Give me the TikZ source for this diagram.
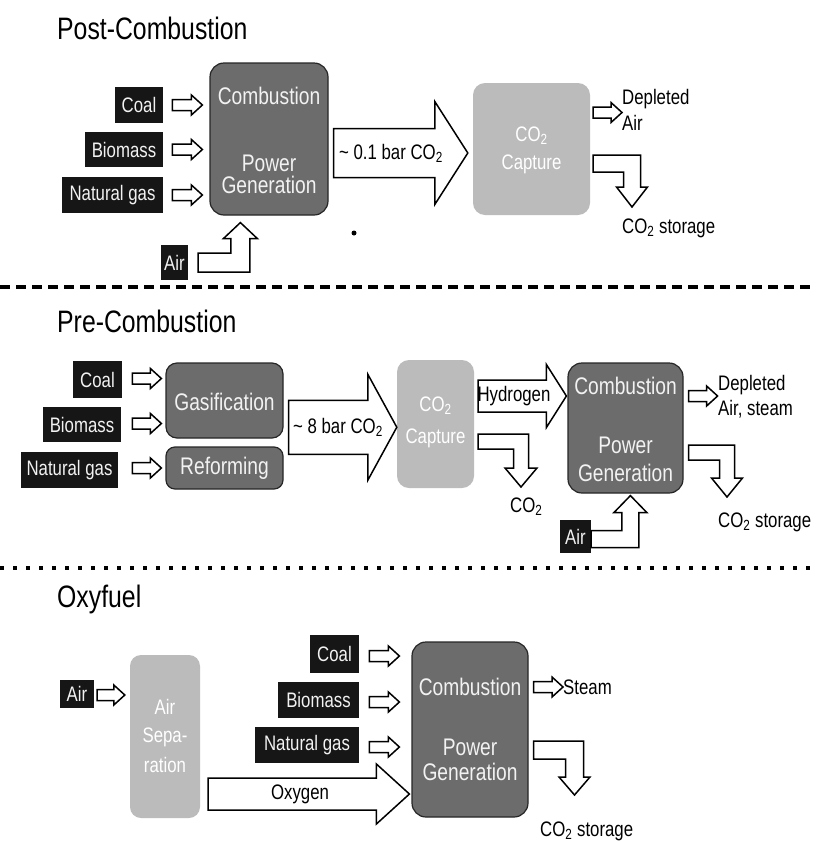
\documentclass[tikz,border=0pt]{standalone}
\usepackage{fontspec}
\setmainfont{Liberation Sans}[FakeStretch=0.8]
\usetikzlibrary{calc}

\definecolor{darkbox}{HTML}{6C6C6C}
\definecolor{lightbox}{HTML}{BBBBBB}
\definecolor{fuelbox}{HTML}{161616}

\begin{document}
\begin{tikzpicture}[x=1pt,y=-1pt,
  title/.style={anchor=base west, inner sep=0pt, font=\fontsize{31}{34}\selectfont},
  fuel/.style={fill=fuelbox, draw=none, inner sep=0pt, text=white!95!black,
    font=\fontsize{21}{24}\selectfont},
  unitbox/.style={draw=black!85, fill=darkbox, rounded corners=14pt, line width=1.2pt, inner sep=0pt},
  capbox/.style={draw=none, fill=lightbox, rounded corners=12pt, inner sep=0pt},
  boxtext/.style={text=white!95!black, inner sep=0pt, font=\fontsize{24}{28}\selectfont},
  captext/.style={text=white, inner sep=0pt, font=\fontsize{21}{24}\selectfont},
  lbl/.style={anchor=base west, inner sep=0pt, font=\fontsize{21}{24}\selectfont},
  midlbl/.style={inner sep=0pt, font=\fontsize{21}{24}\selectfont},
  blk/.style={draw=black, fill=white, line width=1.5pt, line join=miter},
  % straight block arrow: #1 half shaft, #2 half head, #3 head length
  hblk/.style n args={3}{blk, to path={let \p1=(\tikztostart),\p2=(\tikztotarget) in
    (\x1,{\y1+#1pt}) -- ({\x2-#3pt},{\y1+#1pt}) -- ({\x2-#3pt},{\y1+#2pt}) -- (\x2,\y1)
    -- ({\x2-#3pt},{\y1-#2pt}) -- ({\x2-#3pt},{\y1-#1pt}) -- (\x1,{\y1-#1pt}) -- cycle}},
  % bent block arrow, right then down to the tip
  bentdown/.style n args={3}{blk, to path={let \p1=(\tikztostart),\p2=(\tikztotarget) in
    (\x1,{\y1+#1pt}) -- ({\x2+#1pt},{\y1+#1pt}) -- ({\x2+#1pt},{\y2+#3pt}) -- ({\x2+#2pt},{\y2+#3pt})
    -- (\x2,\y2) -- ({\x2-#2pt},{\y2+#3pt}) -- ({\x2-#1pt},{\y2+#3pt}) -- ({\x2-#1pt},{\y1-#1pt})
    -- (\x1,{\y1-#1pt}) -- cycle}},
  % bent block arrow, right then up to the tip
  bentup/.style n args={3}{blk, to path={let \p1=(\tikztostart),\p2=(\tikztotarget) in
    (\x1,{\y1-#1pt}) -- ({\x2+#1pt},{\y1-#1pt}) -- ({\x2+#1pt},{\y2-#3pt}) -- ({\x2+#2pt},{\y2-#3pt})
    -- (\x2,\y2) -- ({\x2-#2pt},{\y2-#3pt}) -- ({\x2-#1pt},{\y2-#3pt}) -- ({\x2-#1pt},{\y1+#1pt})
    -- (\x1,{\y1+#1pt}) -- cycle}},
  small/.style={hblk={5.5}{10}{11}}
]
\useasboundingbox (0,0) rectangle (816,841);

% ================= Post-combustion =================
\node[title] (ptitle) at (57,39) {Post-Combustion};

\node[fuel, minimum width=48, minimum height=36] (pcoal) at (139,105) {Coal};
\node[fuel, minimum width=78, minimum height=35] (pbio) at (124,149.5) {Biomass};
\node[fuel, minimum width=101, minimum height=36] (pgas) at (112.5,195) {Natural gas};
\node[fuel, minimum width=27, minimum height=35] (pair) at (174.5,262.5) {Air};

\node[unitbox, minimum width=118, minimum height=152] (pcomb) at (269,139) {};
\node[boxtext] (pcombA) at (269,96) {Combustion};
\node[boxtext] (pcombB) at (269,163) {Power};
\node[boxtext] (pcombC) at (269,185) {Generation};

\node[capbox, minimum width=117, minimum height=132] (pcap) at (531.5,149) {};
\node[captext] (pcapA) at (531.5,136) {CO\textsubscript{2}};
\node[captext] (pcapB) at (531.5,164) {Capture};

\foreach \f in {pcoal,pbio,pgas}
  \draw[small] ($(\f.east -| pcomb.west)+(-37,0)$) to ($(\f.east -| pcomb.west)+(-7,0)$);

\coordinate (pbigS) at ($(pcomb.east)+(5,14)$);
\coordinate (pbigT) at ($(pcap.west)+(-5,4)$);
\draw[hblk={24.5}{51.5}{33}] (pbigS) to (pbigT);
\node[midlbl] (pbigL) at (391,153) {\textasciitilde{} 0.1 bar CO\textsubscript{2}};

\coordinate (pairS) at ($(pair.east)+(10,0)$);
\coordinate (pairT) at ($(pcomb.south west)+(31,7)$);
\draw[bentup={9.5}{17}{16}] (pairS) to (pairT);

\node[lbl] (pdepA) at (622,104) {Depleted};
\node[lbl] (pdepB) at (622,130) {Air};
\draw[small] ($(pcap.east)+(3,-36.5)$) to ($(pdepA.base west)+(0,8.5)$);

\node[lbl] (pstore) at (622,233) {CO\textsubscript{2} storage};
\coordinate (pstS) at ($(pcap.east)+(3,14.5)$);
\coordinate (pstT) at (632,207);
\draw[bentdown={8.5}{15.5}{20}] (pstS) to (pstT);

\fill (354,233) circle (2.5pt);

\draw[line width=3.5pt, dash pattern=on 10pt off 6pt] (0,287) -- (816,287);

% ================= Pre-combustion =================
\node[title] (qtitle) at (57,332) {Pre-Combustion};

\node[fuel, minimum width=49, minimum height=37] (qcoal) at (97.5,379.5) {Coal};
\node[fuel, minimum width=78, minimum height=35] (qbio) at (82,424.5) {Biomass};
\node[fuel, minimum width=97, minimum height=36] (qgas) at (69.5,470) {Natural gas};

\node[unitbox, rounded corners=11pt, minimum width=117, minimum height=75] (qgasif) at (224.5,400.5) {};
\node[boxtext] (qgasifT) at (224.5,402) {Gasification};
\node[unitbox, rounded corners=9pt, minimum width=117, minimum height=42] (qref) at (224.5,468) {};
\node[boxtext] (qrefT) at (224.5,468) {Reforming};

\draw[small] ($(qcoal.east -| qgasif.west)+(-33,-1)$) to ($(qcoal.east -| qgasif.west)+(-4,-1)$);
\draw[small] ($(qbio.east -| qgasif.west)+(-33,-1)$) to ($(qbio.east -| qgasif.west)+(-4,-1)$);
\draw[small] ($(qgas.east -| qref.west)+(-33,-2)$) to ($(qgas.east -| qref.west)+(-4,-2)$);

\node[capbox, minimum width=77, minimum height=128] (qcap) at (435.5,424) {};
\node[captext] (qcapA) at (435.5,406) {CO\textsubscript{2}};
\node[captext] (qcapB) at (435.5,438) {Capture};

\coordinate (qbigS) at ($(qgasif.east)!0.5!(qref.east)+(5,-7)$);
\coordinate (qbigT) at (qcap.west);
\draw[hblk={27}{53}{29}] (qbigS) to (qbigT);
\node[midlbl] (qbigL) at (338,427) {\textasciitilde{} 8 bar CO\textsubscript{2}};

\node[unitbox, minimum width=115, minimum height=130] (qcomb) at (625.5,428) {};
\node[boxtext] (qcombA) at (625.5,386) {Combustion};
\node[boxtext] (qcombB) at (625.5,445) {Power};
\node[boxtext] (qcombC) at (625.5,473) {Generation};

\coordinate (qhS) at ($(qcap.east)+(4,-28)$);
\coordinate (qhT) at ($(qcomb.west)+(-1,0)$);
\draw[hblk={16}{31.5}{20}] (qhS) to (qhT);
\node[midlbl] (qhL) at (514,396) {Hydrogen};

\node[lbl] (qco2) at (510,512) {CO\textsubscript{2}};
\coordinate (qcS) at ($(qcap.east)+(4,17.5)$);
\coordinate (qcT) at (521,487);
\draw[bentdown={7.5}{16}{19}] (qcS) to (qcT);

\node[lbl] (qdepA) at (718,390) {Depleted};
\node[lbl] (qdepB) at (718,415) {Air, steam};
\draw[small] ($(qcomb.east)+(5,-32)$) to ($(qcomb.east)+(34,-32)$);

\node[lbl] (qstore) at (718,527) {CO\textsubscript{2} storage};
\coordinate (qsS) at ($(qcomb.east)+(5,24.5)$);
\coordinate (qsT) at (727,497);
\draw[bentdown={7.5}{15.5}{19}] (qsS) to (qsT);

\node[fuel, minimum width=31, minimum height=33] (qair) at (575.5,536.5) {Air};
\coordinate (qaS) at ($(qair.east)+(0,2.5)$);
\coordinate (qaT) at ($(qcomb.south west)+(63,2)$);
\draw[bentup={8.5}{16.5}{17}] (qaS) to (qaT);

\draw[line width=3.5pt, dash pattern=on 4pt off 9pt] (0,568) -- (816,568);

% ================= Oxyfuel =================
\node[title] (otitle) at (57,607) {Oxyfuel};

\node[fuel, minimum width=34, minimum height=28] (oair) at (77,694) {Air};
\node[capbox, rounded corners=11pt, minimum width=70, minimum height=163] (osep) at (165,736.5) {};
\node[captext] (osepA) at (165,707) {Air};
\node[captext] (osepB) at (165,737) {Sepa-};
\node[captext] (osepC) at (165,765) {ration};
\draw[small] ($(oair.east)+(3,1)$) to ($(osep.west |- oair.east)+(-5,1)$);

\node[fuel, minimum width=49, minimum height=38] (ocoal) at (334.5,654) {Coal};
\node[fuel, minimum width=81, minimum height=36] (obio) at (318.5,700) {Biomass};
\node[fuel, minimum width=104, minimum height=36] (ogas) at (307,745) {Natural gas};

\node[unitbox, minimum width=116, minimum height=175] (ocomb) at (470,729.5) {};
\node[boxtext] (ocombA) at (470,687) {Combustion};
\node[boxtext] (ocombB) at (470,747) {Power};
\node[boxtext] (ocombC) at (470,772) {Generation};

\foreach \f in {ocoal,obio,ogas}
  \draw[small] ($(\f.east -| ocomb.west)+(-42,2)$) to ($(\f.east -| ocomb.west)+(-12,2)$);

\coordinate (ooS) at ($(osep.east)+(8,57.5)$);
\coordinate (ooT) at ($(ocomb.west)+(-2,0)$);
\draw[hblk={16}{30}{33}] (ooS) to (ooT);
\node[midlbl] (ooL) at (300,794) {Oxygen};

\node[lbl] (osteam) at (563,694) {Steam};
\draw[small] ($(ocomb.east)+(5,-42.5)$) to ($(osteam.base west)+(0,-7)$);

\node[lbl] (ostore) at (540,836) {CO\textsubscript{2} storage};
\coordinate (osS) at ($(ocomb.east)+(5,20.5)$);
\coordinate (osT) at (574.5,795);
\draw[bentdown={9}{15.5}{18}] (osS) to (osT);

\end{tikzpicture}
\end{document}
